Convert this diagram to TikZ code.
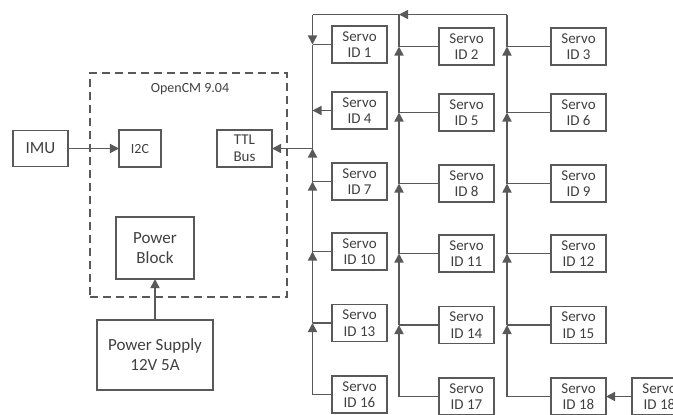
\documentclass[tikz,border=0pt]{standalone}
\usepackage{fontspec}
\setmainfont{Carlito}
\usetikzlibrary{positioning,arrows.meta}

\begin{document}
\begin{tikzpicture}
[x=0.5pt,y=-0.5pt,
 every node/.style={draw=black!65,line width=0.8pt,inner sep=0mm,outer sep=0mm,align=center,text=black!75},
 servo/.style={rectangle,minimum width=27.5pt,minimum height=18.5pt,font=\fontsize{7.5}{8.3}\selectfont},
 unit/.style={rectangle,font=\fontsize{8.5}{10}\selectfont},
 board/.style={rectangle,dash pattern=on 4pt off 2.5pt,minimum width=98.5pt,minimum height=112pt},
 lbl/.style={draw=none,font=\fontsize{7}{8}\selectfont},
 wire/.style={draw=black!65,line width=0.8pt},
 flow/.style={wire,-{Triangle[length=4.6pt,width=4.6pt]}}]
\useasboundingbox (0,0) rectangle (673,414);
\clip (0,0) rectangle (673,414);
% controller board
\node[board] (cm)      at (188.5,185)                        {};
\node[lbl]   (cmname)  at (190,89)                           {OpenCM 9.04};
\node[unit,minimum width=27.5pt,minimum height=18pt] (imu)     at (40.5,148.5) {IMU};
\node[servo,minimum width=21pt,font=\fontsize{7}{8}\selectfont] (i2c) at (140,148.5) {I2C};
\node[servo]                                         (ttl)     at (244.5,148.5) {TTL\\Bus};
\node[unit,minimum width=39pt,minimum height=31pt]   (pblock)  at (155,248)    {Power\\Block};
\node[unit,minimum width=58pt,minimum height=35pt]   (psupply) at (155,355)    {Power Supply\\12V 5A};
% servos
\node[servo] (s1)  at (359.5,44.5)                            {Servo\\ID 1};
\node[servo] (s4)  [on grid,below=33pt of s1]                 {Servo\\ID 4};
\node[servo] (s7)  [on grid,below=35.5pt of s4]               {Servo\\ID 7};
\node[servo] (s10) [on grid,below=35pt of s7]                 {Servo\\ID 10};
\node[servo] (s13) [on grid,below=35.75pt of s10]             {Servo\\ID 13};
\node[servo] (s16) [on grid,below=35.75pt of s13]             {Servo\\ID 16};
\node[servo] (s2)  [on grid,below right=1pt and 53.5pt of s1]  {Servo\\ID 2};
\node[servo] (s5)  [on grid,below right=1pt and 53.5pt of s4]  {Servo\\ID 5};
\node[servo] (s8)  [on grid,below right=1pt and 53.5pt of s7]  {Servo\\ID 8};
\node[servo] (s11) [on grid,below right=1pt and 53.5pt of s10] {Servo\\ID 11};
\node[servo] (s14) [on grid,below right=1pt and 53.5pt of s13] {Servo\\ID 14};
\node[servo] (s17) [on grid,below right=1pt and 53.5pt of s16] {Servo\\ID 17};
\node[servo] (s3)  [on grid,right=56pt of s2]                 {Servo\\ID 3};
\node[servo] (s6)  [on grid,right=56pt of s5]                 {Servo\\ID 6};
\node[servo] (s9)  [on grid,right=56pt of s8]                 {Servo\\ID 9};
\node[servo] (s12) [on grid,right=56pt of s11]                {Servo\\ID 12};
\node[servo] (s15) [on grid,right=56pt of s14]                {Servo\\ID 15};
\node[servo] (s18) [on grid,right=56pt of s17]                {Servo\\ID 18};
\node[servo] (s19) [on grid,right=40.5pt of s18]              {Servo\\ID 18};
% bus corners and junctions
\coordinate (top1) at (312.5,14.5);
\coordinate (top2) at (399,14.5);
\coordinate (top3) at (507,14.5);
\coordinate (jt)  at (ttl.east -| top1);
\coordinate (j1)  at (s1.west  -| top1);
\coordinate (j4)  at (s4.west  -| top1);
\coordinate (j7)  at (s7.west  -| top1);
\coordinate (j10) at (s10.west -| top1);
\coordinate (j13) at (s13.west -| top1);
\coordinate (j2)  at (s2.west  -| top2);
\coordinate (j5)  at (s5.west  -| top2);
\coordinate (j8)  at (s8.west  -| top2);
\coordinate (j11) at (s11.west -| top2);
\coordinate (j14) at (s14.west -| top2);
\coordinate (j3)  at (s3.west  -| top3);
\coordinate (j6)  at (s6.west  -| top3);
\coordinate (j9)  at (s9.west  -| top3);
\coordinate (j12) at (s12.west -| top3);
\coordinate (j15) at (s15.west -| top3);
% first bus
\draw[flow] (s16.west) -| (j13);
\draw[wire] (s13.west) -- (j13);
\draw[flow] (j13) -- (j10);
\draw[wire] (s10.west) -- (j10);
\draw[flow] (j10) -- (j7);
\draw[wire] (s7.west)  -- (j7);
\draw[flow] (j7)  -- (jt);
\draw[flow] (jt)  -- (ttl.east);
\draw[wire] (jt)  -- (j4);
\draw[flow] (s4.west)  -- (j4);
\draw[wire] (j4)  -- (j1);
\draw[wire] (s1.west)  -- (j1);
\draw[flow] (top1) -- (j1);
% second bus
\draw[flow] (s17.west) -| (j14);
\draw[wire] (s14.west) -- (j14);
\draw[flow] (j14) -- (j11);
\draw[wire] (s11.west) -- (j11);
\draw[flow] (j11) -- (j8);
\draw[wire] (s8.west)  -- (j8);
\draw[flow] (j8)  -- (j5);
\draw[wire] (s5.west)  -- (j5);
\draw[flow] (j5)  -- (j2);
\draw[wire] (s2.west)  -- (j2);
\draw[wire] (j2)  -- (top2) -- (top1);
% third bus
\draw[flow] (s18.west) -| (j15);
\draw[wire] (s15.west) -- (j15);
\draw[flow] (j15) -- (j12);
\draw[wire] (s12.west) -- (j12);
\draw[flow] (j12) -- (j9);
\draw[wire] (s9.west)  -- (j9);
\draw[flow] (j9)  -- (j6);
\draw[wire] (s6.west)  -- (j6);
\draw[flow] (j6)  -- (j3);
\draw[wire] (s3.west)  -- (j3);
\draw[wire] (j3)  -- (top3);
\draw[flow] (top3) -- (top2);
\draw[flow] (s19.west) -- (s18.east);
% sensor and power
\draw[flow] (imu) -- (i2c);
\draw[flow] (psupply) -- (pblock);
\end{tikzpicture}
\end{document}
